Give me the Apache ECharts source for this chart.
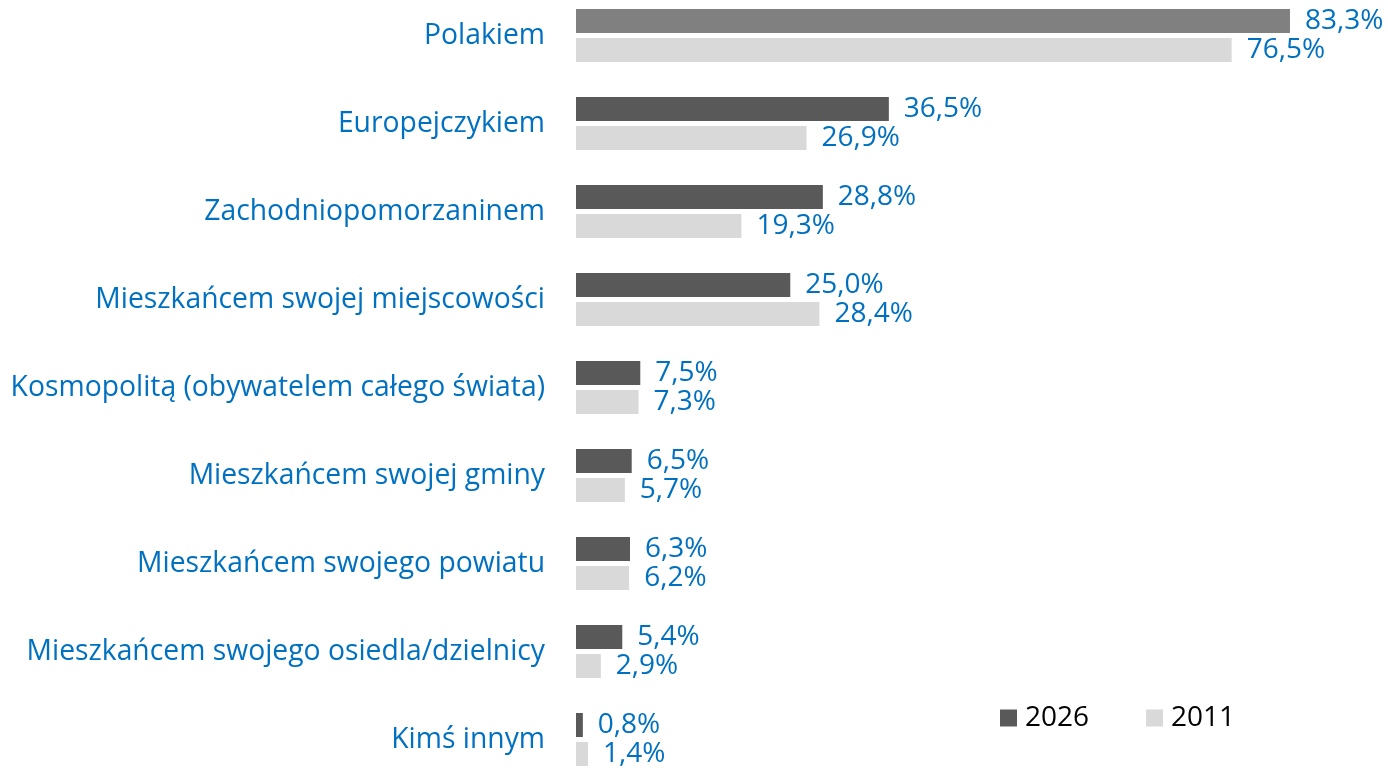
<!DOCTYPE html>
<html>
<head>
<meta charset="utf-8">
<script src="https://cdn.jsdelivr.net/npm/echarts@6/dist/echarts.min.js"></script>
<style>
  html, body { margin: 0; padding: 0; background: #fff; }
  #chart { width: 1388px; height: 770px; }
</style>
</head>
<body>
<div id="chart"></div>
<script>
var categories = [
    'Polakiem',
    'Europejczykiem',
    'Zachodniopomorzaninem',
    'Mieszkańcem swojej miejscowości',
    'Kosmopolitą (obywatelem całego świata)',
    'Mieszkańcem swojej gminy',
    'Mieszkańcem swojego powiatu',
    'Mieszkańcem swojego osiedla/dzielnicy',
    'Kimś innym'
];
var values2026 = [83.3, 36.5, 28.8, 25.0, 7.5, 6.5, 6.3, 5.4, 0.8];
var values2011 = [76.5, 26.9, 19.3, 28.4, 7.3, 5.7, 6.2, 2.9, 1.4];
var seriesNames = ['2026', '2011'];

var FONT = '"Open Sans", "Noto Sans", sans-serif';
var BLUE = '#0070C0';

function pct(p) {
    return p.value.toFixed(1).replace('.', ',') + '%';
}

// pierwszy słupek 2026 jest jaśniejszy
var data2026 = values2026.map(function (v, i) {
    return i === 0 ? {value: v, itemStyle: {color: '#808080'}} : v;
});

var chart = echarts.init(document.getElementById('chart'));
var option = {
    animation: false,
    textStyle: {fontFamily: FONT},
    grid: {
        left: 576,
        top: -8.5,
        width: 771.4,
        height: 792,
        containLabel: false,
        outerBoundsMode: 'none'
    },
    legend: {
        data: seriesNames,
        left: 995,
        top: 699,
        itemWidth: 17,
        itemHeight: 17,
        itemGap: 57,
        icon: 'rect',
        textStyle: {fontFamily: FONT, fontSize: 28, color: '#000', padding: [0, 0, 0, 3]}
    },
    xAxis: {
        type: 'value',
        min: 0,
        max: 90,
        show: false
    },
    yAxis: {
        type: 'category',
        data: categories,
        inverse: true,
        axisLine: {show: false},
        axisTick: {show: false},
        axisLabel: {
            margin: 31,
            fontSize: 28.3,
            color: BLUE,
            fontFamily: FONT,
            padding: [4, 0, 0, 0]
        }
    },
    series: [
        {
            name: seriesNames[0],
            type: 'bar',
            data: data2026,
            barWidth: 24,
            barGap: '21%',
            itemStyle: {color: '#595959'},
            label: {
                show: true,
                position: 'right',
                distance: 15,
                formatter: pct,
                fontSize: 28,
                color: BLUE,
                fontFamily: FONT
            }
        },
        {
            name: seriesNames[1],
            type: 'bar',
            data: values2011,
            barWidth: 24,
            itemStyle: {color: '#D9D9D9'},
            label: {
                show: true,
                position: 'right',
                distance: 15,
                formatter: pct,
                fontSize: 28,
                color: BLUE,
                fontFamily: FONT
            }
        }
    ]
};
chart.setOption(option);
</script>
</body>
</html>
